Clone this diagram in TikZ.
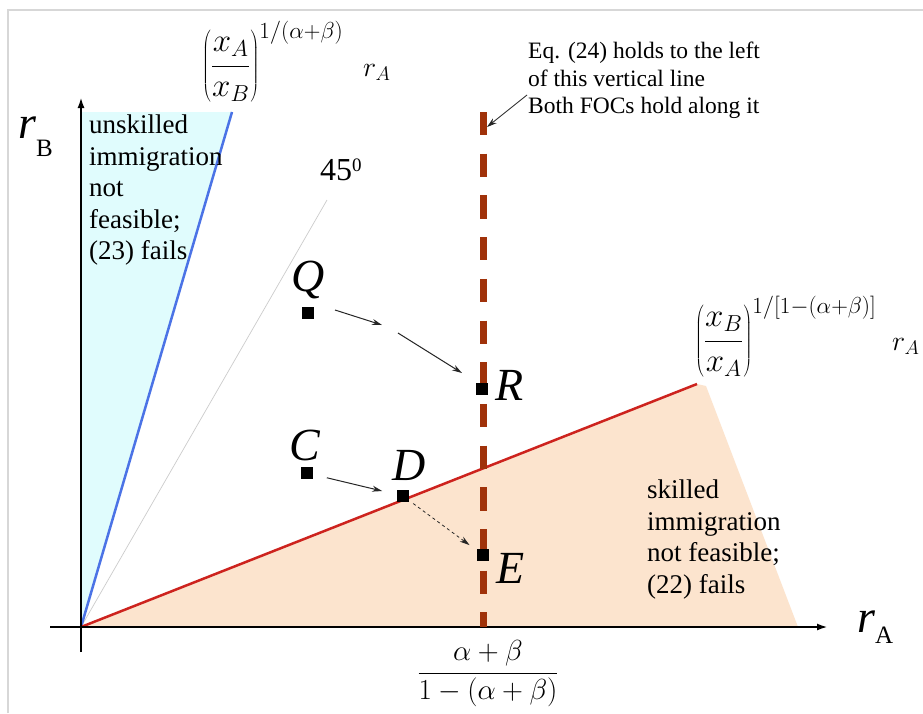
\RequirePackage{fix-cm}
\documentclass[tikz,border=0pt]{standalone}
\usepackage[no-math]{fontspec}
\setmainfont{Liberation Serif}
\newfontfamily\tnr{Liberation Serif}
\usetikzlibrary{arrows.meta}
\definecolor{cyanfill}{RGB}{224,252,253}
\definecolor{peach}{RGB}{252,228,206}
\definecolor{blueline}{RGB}{75,115,230}
\definecolor{redline}{RGB}{205,35,30}
\definecolor{brownline}{RGB}{160,50,10}
\definecolor{framegray}{RGB}{215,215,215}
\begin{document}
\begin{tikzpicture}[x=1pt,y=-1pt,
  lbl/.style={font=\tnr\fontsize{46}{46}\selectfont\itshape, inner sep=0, anchor=base},
  pt/.style={fill=black, minimum size=12pt, inner sep=0, draw=none},
  note/.style={font=\tnr\fontsize{27}{31.5}\selectfont, align=left, inner sep=0, anchor=north west},
  smallnote/.style={font=\tnr\fontsize{23.5}{27.5}\selectfont, align=left, inner sep=0, anchor=north west},
  formula/.style={font=\fontsize{33}{40}\selectfont, inner sep=0, anchor=base west},
  conn/.style={-{Stealth[length=10pt,width=6pt]}, line width=1pt, draw=black!85},
  axis/.style={line width=2.2pt, -{Latex[length=11pt,width=7pt]}},
]
\useasboundingbox (0,0) rectangle (923,713);
\fill[white] (0,0) rectangle (923,713);
\draw[framegray, line width=1.5pt] (8,713) -- (8,10) -- (923,10);

% regions
\fill[cyanfill] (81,112) -- (232,112) -- (81,627) -- cycle;
\fill[peach] (81,627) -- (697,384) -- (706,386) -- (798,627) -- cycle;

% lines
\coordinate (O) at (81,627);
\coordinate (bluetop) at (232,112);
\coordinate (grtop) at (327,200);
\coordinate (redtop) at (697,384);
\draw[gray!40, line width=0.7pt] (O) -- (grtop);
\draw[blueline, line width=2.5pt] (O) -- (bluetop);
\draw[redline, line width=2.5pt] (O) -- (redtop);

% axes
\coordinate (xs) at (50,627); \coordinate (xe) at (828,627);
\coordinate (ys) at (81,652); \coordinate (ye) at (81,97);
\draw[axis] (xs) -- (xe);
\draw[axis] (ys) -- (ye);

% vertical dashed line
\coordinate (vtop) at (483,112); \coordinate (vbot) at (483,627);
\draw[brownline, line width=7pt, dash pattern=on 23.3pt off 18.4pt] (vtop) -- (vbot);

% points
\node[pt] (Q) at (308,313) {};
\node[pt] (R) at (482,389) {};
\node[pt] (C) at (307,473) {};
\node[pt] (D) at (403,496) {};
\node[pt] (E) at (483,555) {};
\node[lbl] (Ql) at (308,291) {Q};
\node[lbl] (Rl) at (510,400) {R};
\node[lbl] (Cl) at (305,460) {C};
\node[lbl] (Dl) at (409,480) {D};
\node[lbl] (El) at (511,583) {E};

% arrows
\coordinate (qa) at (335,310); \coordinate (qb) at (382,325);
\coordinate (qc) at (398,333); \coordinate (qd) at (462,373);
\draw[conn] (qa) -- (qb);
\draw[conn] (qc) -- (qd);
\draw[conn, shorten <=14pt, shorten >=15pt] (C) -- (D);
\draw[conn, dashed, line width=0.8pt, shorten <=5pt, shorten >=9pt] (D) -- (E);

% texts
\node[note] (unsk) at (89,114.6) {unskilled\\immigration\\not\\feasible;\\(23) fails};
\node[note] (sk) at (647,479.6) {skilled\\immigration\\not feasible;\\(22) fails};
\node[smallnote] (ann) at (528,41.8) {Eq. (24) holds to the left\\of this vertical line\\Both FOCs hold along it};
\coordinate (aa) at (527,95); \coordinate (ab) at (487,127);
\draw[conn, line width=0.8pt] (aa) -- (ab);

\node[anchor=base west, inner sep=0, font=\tnr\fontsize{32}{32}\selectfont] (deg) at (320,180) {45\raisebox{9pt}{\fontsize{19}{19}\selectfont 0}};

% formulas
\node[formula] (fA) at (202,74) {$\displaystyle\left(\frac{x_A}{x_B}\right)^{1/(\alpha+\beta)}$};
\node[formula, font=\fontsize{28}{34}\selectfont] (rA1) at (363,76) {$r_A$};
\node[formula] (fB) at (695,349) {$\displaystyle\left(\frac{x_B}{x_A}\right)^{1/[1-(\alpha+\beta)]}$};
\node[formula, font=\fontsize{28}{34}\selectfont] (rA2) at (892,350) {$r_A$};
\node[font=\fontsize{29}{36}\selectfont, inner sep=0, anchor=base] (frac) at (488,680) {$\displaystyle\frac{\alpha+\beta}{1-(\alpha+\beta)}$};

% axis labels
\node[anchor=base west, inner sep=0] (rB) at (18,138) {\tnr\fontsize{46}{46}\selectfont\itshape r\raisebox{-18pt}{\fontsize{25}{25}\selectfont\upshape B}};
\node[anchor=base west, inner sep=0] (rAx) at (857,632) {\tnr\fontsize{46}{46}\selectfont\itshape r\raisebox{-11pt}{\fontsize{25}{25}\selectfont\upshape A}};
\end{tikzpicture}
\end{document}
